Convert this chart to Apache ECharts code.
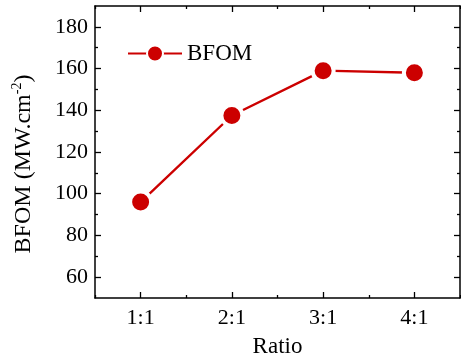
<!DOCTYPE html>
<html>
<head>
<meta charset="utf-8">
<script src="https://cdn.jsdelivr.net/npm/echarts@6/dist/echarts.min.js"></script>
<style>html,body{margin:0;padding:0;background:#fff;}#c{width:461px;height:363px;}</style>
</head>
<body>
<div id="c"></div>
<script>
var categories = ['1:1', '2:1', '3:1', '4:1'];
var bfomValues = [96, 137.5, 159, 158];
var yMajorTicks = [60, 80, 100, 120, 140, 160, 180];
var yMinorTicks = [70, 90, 110, 130, 150, 170];
var seriesName = 'BFOM';
var xTitle = 'Ratio';
var yTitle = 'BFOM (MW.cm{sup|-2})';

var FONT = '"Liberation Serif", "Times New Roman", serif';
var RED = '#cc0000';
var chart = echarts.init(document.getElementById('c'));

function xAx(pos, major) {
  return {
    type: 'category', data: categories, position: pos, boundaryGap: true,
    axisLine: { show: major, lineStyle: { color: '#000', width: 1.5 } },
    axisTick: { show: true, inside: true, alignWithLabel: major, length: major ? 6 : 3, lineStyle: { color: '#000', width: 1.3 } },
    axisLabel: { show: major && pos === 'bottom', color: '#000', fontFamily: FONT, fontSize: 22, margin: 9 },
    splitLine: { show: false },
    name: (major && pos === 'bottom') ? xTitle : '', nameLocation: 'middle', nameGap: 37,
    nameTextStyle: { color: '#000', fontFamily: FONT, fontSize: 23 }
  };
}
function yAx(pos, major) {
  var vals = major ? yMajorTicks : yMinorTicks;
  return {
    type: 'value', min: 50, max: 190, position: pos,
    axisLine: { show: major, lineStyle: { color: '#000', width: 1.5 } },
    axisTick: { show: true, inside: true, length: major ? 6 : 3, customValues: vals, lineStyle: { color: '#000', width: 1.3 } },
    axisLabel: { show: major && pos === 'left', customValues: vals, color: '#000', fontFamily: FONT, fontSize: 22, margin: 7 },
    splitLine: { show: false },
    name: (major && pos === 'left') ? yTitle : '', nameLocation: 'middle', nameGap: 58, nameRotate: 90,
    nameTextStyle: { color: '#000', fontFamily: FONT, fontSize: 24, lineHeight: 27, padding: [0, 24, 0, 0],
      rich: { sup: { fontFamily: FONT, fontSize: 14, verticalAlign: 'top', color: '#000', lineHeight: 27 } } }
  };
}

chart.setOption({
  animation: false,
  backgroundColor: '#fff',
  grid: { left: 95, right: 1, top: 6, bottom: 62, containLabel: false },
  legend: {
    data: [seriesName], left: 122, top: 37, itemWidth: 54, itemHeight: 20, itemGap: 6,
    textStyle: { color: '#000', fontFamily: FONT, fontSize: 23 }
  },
  xAxis: [xAx('bottom', true), xAx('bottom', false), xAx('top', true), xAx('top', false)],
  yAxis: [yAx('left', true), yAx('left', false), yAx('right', true), yAx('right', false)],
  series: [{
    name: seriesName, type: 'line', xAxisIndex: 0, yAxisIndex: 0,
    data: bfomValues, symbol: 'circle', symbolSize: 21,
    lineStyle: { color: RED, width: 2.4 },
    itemStyle: { color: RED, borderColor: '#fff', borderWidth: 4 }
  }]
});
</script>
</body>
</html>
